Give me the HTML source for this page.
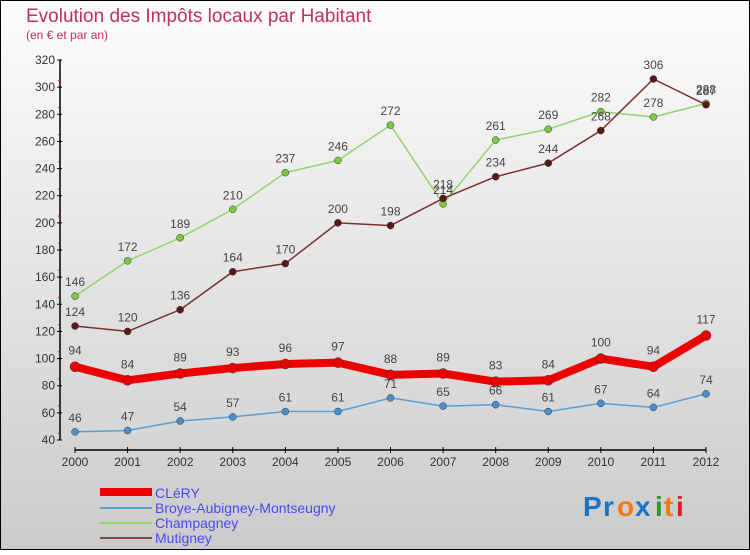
<!DOCTYPE html>
<html><head><meta charset="utf-8"><style>
html,body{margin:0;padding:0}
body{width:750px;height:550px;overflow:hidden;font-family:"Liberation Sans",sans-serif}
</style></head><body>
<svg id="chart" width="750" height="550" xmlns="http://www.w3.org/2000/svg" font-family="Liberation Sans, sans-serif">
<defs><linearGradient id="bg" x1="0" y1="0" x2="0" y2="1"><stop offset="0" stop-color="#fdfdfd"/><stop offset="1" stop-color="#cbcbcb"/></linearGradient></defs>
<rect x="0.5" y="0.5" width="749" height="549" fill="url(#bg)" stroke="#000"/>
<text x="26" y="22" font-size="19" fill="#c0305f">Evolution des Impôts locaux par Habitant</text>
<text x="26" y="39" font-size="12" fill="#c0305f">(en € et par an)</text>
<g id="axes"></g><g id="series"></g>
<g>
<rect x="100" y="488" width="52" height="8" fill="#e00"/>
<line x1="100" y1="508" x2="152" y2="508" stroke="#5a9fd4" stroke-width="2"/>
<line x1="100" y1="523" x2="152" y2="523" stroke="#8fd468" stroke-width="2"/>
<line x1="100" y1="538" x2="152" y2="538" stroke="#8b4a4a" stroke-width="2"/>
<g font-size="14" fill="#4a4aee">
<text x="155" y="498">CLéRY</text>
<text x="155" y="513">Broye-Aubigney-Montseugny</text>
<text x="155" y="528">Champagney</text>
<text x="155" y="543">Mutigney</text></g></g>
<g font-size="28" font-weight="bold">
<text x="583" y="516" fill="#1a75c4">P</text><text x="603" y="516" fill="#1a75c4">r</text><text x="617" y="516" fill="#f07c10">o</text><text x="635" y="516" fill="#1a75c4">x</text><text x="655" y="516" fill="#2a9a2a">i</text><text x="664" y="516" fill="#f07c10">t</text><text x="676" y="516" fill="#e02020">i</text></g>
</svg>
<script>
const years=[2000,2001,2002,2003,2004,2005,2006,2007,2008,2009,2010,2011,2012];
const yTicks=[40,60,80,100,120,140,160,180,200,220,240,260,280,300,320];
const clery=[94,84,89,93,96,97,88,89,83,84,100,94,117];
const broye=[46,47,54,57,61,61,71,65,66,61,67,64,74];
const champagney=[146,172,189,210,237,246,272,214,261,269,282,278,288];
const mutigney=[124,120,136,164,170,200,198,218,234,244,268,306,287];
const NS="http://www.w3.org/2000/svg";
const xs=i=>75+i*(706-75)/(years.length-1);
const ys=v=>440-(v-40)*(380/280);
function mk(tag,attrs,parent){const e=document.createElementNS(NS,tag);for(const k in attrs)e.setAttribute(k,attrs[k]);parent.appendChild(e);return e;}
const ax=document.getElementById('axes');
let a=mk('line',{x1:60,y1:60,x2:60,y2:440,stroke:'#000','stroke-width':1.5},ax);


a=mk('line',{x1:75,y1:450,x2:706,y2:450,stroke:'#000','stroke-width':1.5},ax);


yTicks.forEach((v,i)=>{const y=ys(v);mk('line',{x1:57,y1:y,x2:62,y2:y,stroke:'#000'},ax);
if(i<yTicks.length-1)mk('line',{x1:58,y1:y-6.8,x2:60,y2:y-6.8,stroke:'#e00'},ax);
const t=mk('text',{x:55,y:y+4,'font-size':12,fill:'#333','text-anchor':'end'},ax);t.textContent=v;

});
years.forEach((yr,i)=>{const x=xs(i);mk('line',{x1:x,y1:447,x2:x,y2:453,stroke:'#000'},ax);
const t=mk('text',{x:x,y:466,'font-size':12,fill:'#333','text-anchor':'middle'},ax);t.textContent=yr;

});
const sg=document.getElementById('series');
function series(name,data,color,w,r,dot,labelOff){
const g=mk('g',{},sg);


mk('polyline',{points:data.map((v,i)=>xs(i)+','+ys(v)).join(' '),fill:'none',stroke:color,'stroke-width':w,'stroke-linejoin':'round'},g);
data.forEach((v,i)=>{const c=mk('circle',{cx:xs(i),cy:ys(v),r:r,fill:dot,stroke:'#333','stroke-width':0.5},g);


const t=mk('text',{x:xs(i),y:ys(v)-labelOff,'font-size':12,fill:'#444','text-anchor':'middle'},g);t.textContent=v;

});}
series('broye',broye,'#5a9fd4',1.5,3.5,'#4a90d0',10);
series('champagney',champagney,'#8fd468',1.5,3.5,'#7cc840',10);
series('mutigney',mutigney,'#7a3030',1.5,3.5,'#5a1818',10);
series('clery',clery,'#ee0000',8,5,'#ee0000',12);
</script>
</body></html>
